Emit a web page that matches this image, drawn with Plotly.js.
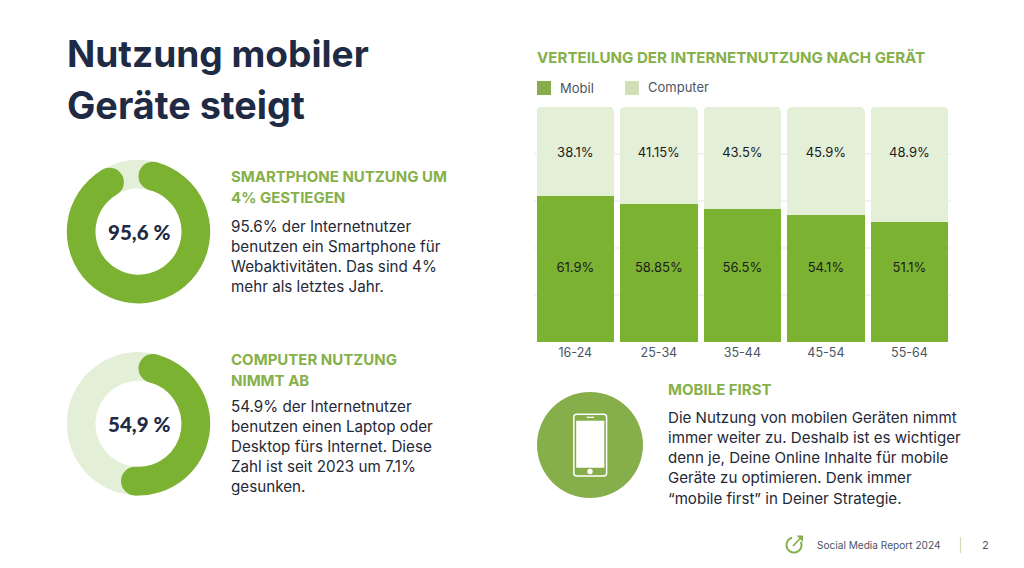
<!DOCTYPE html>
<html><head><meta charset="utf-8">
<script src="https://cdn.plot.ly/plotly-3.0.1.min.js"></script>
<style>html,body{margin:0;padding:0;background:#fff}#c{width:1024px;height:568px}</style>
</head><body><div id="c"></div>
<script>
var ageGroups = ["16-24","25-34","35-44","45-54","55-64"];
var mobil = [61.9,58.85,56.5,54.1,51.1];
var computer = [38.1,41.15,43.5,45.9,48.9];
var mobilLabels = ["61.9%","58.85%","56.5%","54.1%","51.1%"];
var computerLabels = ["38.1%","41.15%","43.5%","45.9%","48.9%"];
var smartphoneShare = 95.6;
var computerShare = 54.9;

var W=1024,H=568, GREEN="#7cb232", LIGHT="#e4efd8", DARK="#1f2a44", GREY="#4b5563", HEAD="#86b04a", BODY="#1f2937";
var FONT="Inter, sans-serif";
function px(x){return x/W} function py(y){return 1-y/H}
function P(x,y){return px(x)+","+py(y)}
var ann=[], shapes=[];
function T(x,y,s,size,color,weight,anchor,font){
  ann.push({xref:"paper",yref:"paper",x:px(x),y:py(y),text:s,showarrow:false,xanchor:anchor||"left",yanchor:"middle",borderpad:0,borderwidth:0,
    font:{family:font||FONT,size:size,color:color,weight:weight||400}});
}
function lines(x,ys,arr,size,color,weight){arr.forEach(function(s,i){T(x,ys[i],s,size,color,weight)})}
function circle(cx,cy,r,fill){shapes.push({type:"circle",xref:"paper",yref:"paper",x0:px(cx-r),x1:px(cx+r),y0:py(cy+r),y1:py(cy-r),fillcolor:fill,line:{width:0},layer:"above"})}
function rect(x0,y0,x1,y1,fill){shapes.push({type:"rect",xref:"paper",yref:"paper",x0:px(x0),x1:px(x1),y0:py(y1),y1:py(y0),fillcolor:fill,line:{width:0},layer:"above"})}
function path(d,fill,lc,lw){shapes.push({type:"path",xref:"paper",yref:"paper",path:d,fillcolor:fill||"rgba(0,0,0,0)",line:{color:lc||"rgba(0,0,0,0)",width:lw||0},layer:"above"})}
function roundRect(x0,y0,x1,y1,r){return "M"+P(x0+r,y0)+"L"+P(x1-r,y0)+"Q"+P(x1,y0)+" "+P(x1,y0+r)+"L"+P(x1,y1-r)+"Q"+P(x1,y1)+" "+P(x1-r,y1)+"L"+P(x0+r,y1)+"Q"+P(x0,y1)+" "+P(x0,y1-r)+"L"+P(x0,y0+r)+"Q"+P(x0,y0)+" "+P(x0+r,y0)+"Z"}

/* donuts */
var RO=71.7,RI=43,RM=(RO+RI)/2,CAP=(RO-RI)/2,capDeg=Math.asin(CAP/RM)*180/Math.PI;
function donut(v,cx,cy){
  var capPct=capDeg/3.6;
  [capDeg,v*3.6-capDeg].forEach(function(a){var t=a*Math.PI/180;circle(cx+RM*Math.sin(t),cy-RM*Math.cos(t),CAP,GREEN)});
  return {type:"pie",values:[v-2*capPct,100-v+2*capPct],rotation:capDeg,direction:"clockwise",sort:false,hole:RI/RO,textinfo:"none",hoverinfo:"skip",showlegend:false,
    marker:{colors:[GREEN,LIGHT],line:{width:0}},domain:{x:[px(cx-RO),px(cx+RO)],y:[py(cy+RO),py(cy-RO)]}};
}
var d1=donut(smartphoneShare,138.5,231.7), d2=donut(computerShare,138.5,423.8);

/* bars */
var labelYMobil=ageGroups.map(function(){return 31}), labelYComp=ageGroups.map(function(){return 80});
var bars=[
 {type:"bar",name:"Mobil",x:ageGroups,y:mobil,marker:{color:GREEN,cornerradius:5,line:{width:0}},hoverinfo:"x+y",showlegend:false},
 {type:"bar",name:"Computer",x:ageGroups,y:computer,marker:{color:LIGHT,cornerradius:5,line:{width:0}},hoverinfo:"x+y",showlegend:false},
 {type:"scatter",mode:"text",x:ageGroups,y:labelYMobil,text:mobilLabels,textposition:"middle center",textfont:{family:FONT,size:13,color:"#1c1c1c"},hoverinfo:"skip",showlegend:false},
 {type:"scatter",mode:"text",x:ageGroups,y:labelYComp,text:computerLabels,textposition:"middle center",textfont:{family:FONT,size:13,color:"#1c1c1c"},hoverinfo:"skip",showlegend:false}
];

/* text */
T(67,54,"Nutzung mobiler",37.1,DARK,700);
T(67,105,"Geräte steigt",37.8,DARK,700);
lines(231,[176.5,197.5],["SMARTPHONE NUTZUNG UM","4% GESTIEGEN"],15,HEAD,700);
lines(231,[226.3,246.3,266.3,286.3],["95.6% der Internetnutzer","benutzen ein Smartphone für","Webaktivitäten. Das sind 4%","mehr als letztes Jahr."],15.2,BODY);
lines(231,[359.5,380.5],["COMPUTER NUTZUNG","NIMMT AB"],15,HEAD,700);
lines(231,[406.3,426.3,446.3,466.3,486.3],["54.9% der Internetnutzer","benutzen einen Laptop oder","Desktop fürs Internet. Diese","Zahl ist seit 2023 um 7.1%","gesunken."],15.2,BODY);
T(138.5,232,"95,6 %",20.5,DARK,900,"center","Lato, sans-serif");
T(138.5,424,"54,9 %",20.5,DARK,900,"center","Lato, sans-serif");
T(537,57,"VERTEILUNG DER INTERNETNUTZUNG NACH GERÄT",15.12,HEAD,700);
T(560,88,"Mobil",13,GREY);
T(648,87,"Computer",13,GREY);
rect(537,81,551,95,"#86ad4a");
rect(625,81,639,95,"#cfe0b6");
T(668,389.5,"MOBILE FIRST",15,HEAD,700);
lines(668,[417.5,437.5,457.5,477.5,498.5],["Die Nutzung von mobilen Geräten nimmt","immer weiter zu. Deshalb ist es wichtiger","denn je, Deine Online Inhalte für mobile","Geräte zu optimieren. Denk immer","“mobile first” in Deiner Strategie."],15.1,BODY);

/* phone icon */
circle(590,445,53,"#86ae4b");
path(roundRect(573.8,414.2,606.6,476,3),"rgba(0,0,0,0)","#fff",1.5);
rect(576.2,420.7,604.3,467.7,"#fff");
rect(586.7,416.7,594,418,"#fff");
circle(590,471.5,2.7,"#fff");

/* footer */
(function(){
  var cx=794,cy=545,r=7.5,d="",i;
  for(i=0;i<=28;i++){var a=(65+i*10)*Math.PI/180;d+=(i?"L":"M")+P(cx+r*Math.sin(a),cy-r*Math.cos(a))}
  path(d,null,"#86b04a",2);
  path("M"+P(793,546)+"L"+P(800.5,538),null,"#86b04a",1.8);
  path("M"+P(796.5,535.5)+"L"+P(803,535.5)+"L"+P(803,542)+"Z","#86b04a");
})();
T(816.5,545,"Social Media Report 2024",10.1,GREY);
path("M"+P(960.5,537)+"L"+P(960.5,553),null,"#cfe0b6",1.2);
T(985,545,"2",11,GREY,400,"center");

var layout={width:W,height:H,margin:{l:0,r:0,t:0,b:0},paper_bgcolor:"#fff",plot_bgcolor:"#fff",barmode:"stack",bargap:0.074,showlegend:false,
  font:{family:FONT},
  xaxis:{domain:[px(533.6),px(951.2)],type:"category",tickfont:{family:FONT,size:12.5,color:GREY},ticklabelstandoff:1,ticks:"",showline:false,showgrid:false,zeroline:false,automargin:false,categoryarray:ageGroups},
  yaxis:{domain:[py(342),py(106.7)],range:[0,100],dtick:20,showticklabels:false,gridcolor:"#f3f3f3",gridwidth:1.5,zeroline:false,showline:false,ticks:"",automargin:false},
  annotations:ann,shapes:shapes};
Plotly.newPlot("c",bars.concat([d1,d2]),layout,{displayModeBar:false,staticPlot:true});
</script></body></html>
